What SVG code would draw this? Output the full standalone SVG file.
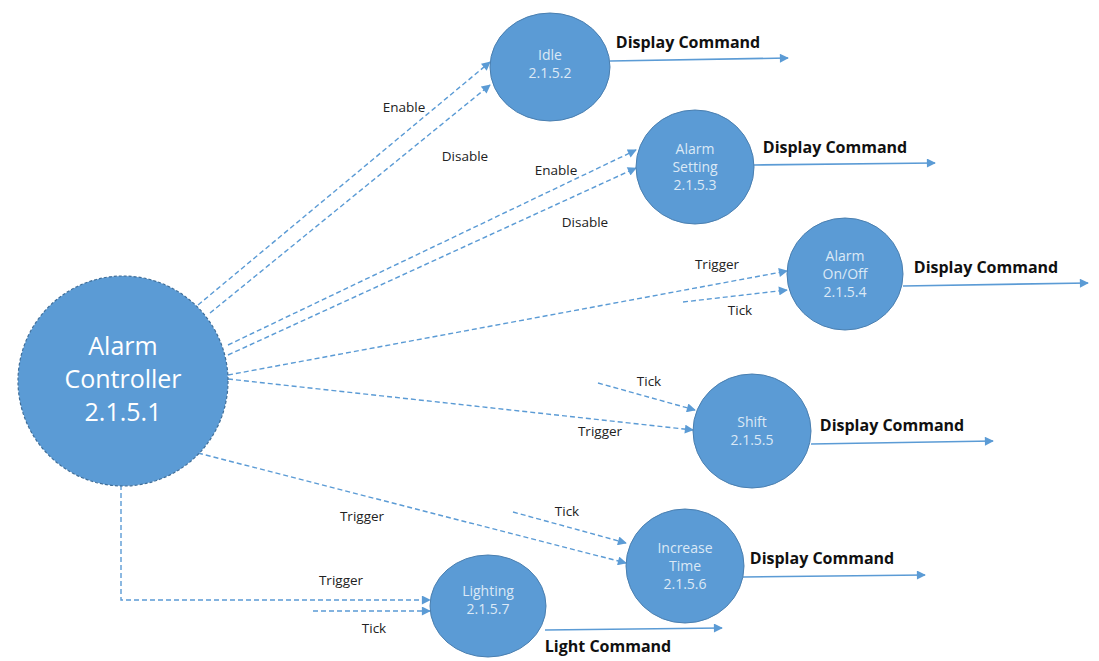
<svg xmlns="http://www.w3.org/2000/svg" width="1099" height="661" viewBox="0 0 1099 661">
<style>
.node{fill:#5B9BD5;stroke:#4A7FB0;stroke-width:1}
.main{fill:#5B9BD5;stroke:#3F6E99;stroke-width:1.2;stroke-dasharray:3 2}
.nt{font-family:"Open Sans","Noto Sans",sans-serif;font-size:14px;fill:#DCE9F6;text-anchor:middle}
.mt{font-family:"Open Sans","Noto Sans",sans-serif;font-size:25px;fill:#FFFFFF;text-anchor:middle}
.lbl{font-family:"Open Sans","Noto Sans",sans-serif;font-size:13.5px;fill:#222;text-anchor:middle}
.out{font-family:"Open Sans","Noto Sans",sans-serif;font-size:16px;font-weight:bold;fill:#111;text-anchor:middle}
.d{fill:none;stroke:#5B9BD5;stroke-width:1.4;stroke-dasharray:5 3}
.s{fill:none;stroke:#5B9BD5;stroke-width:1.6}
</style>
<defs>
<marker id="ah" viewBox="0 0 10 10" refX="9" refY="5" markerWidth="10" markerHeight="9" markerUnits="userSpaceOnUse" orient="auto">
<path d="M0,0 L10,5 L0,10 z" fill="#5B9BD5"/>
</marker>
</defs>
<rect width="1099" height="661" fill="#FFFFFF"/>
<g id="connectors">
<line class="d" x1="198" y1="305" x2="490" y2="62" marker-end="url(#ah)"/>
<line class="d" x1="210" y1="313" x2="490" y2="85" marker-end="url(#ah)"/>
<line class="d" x1="228" y1="345" x2="636" y2="150" marker-end="url(#ah)"/>
<line class="d" x1="228" y1="355" x2="636" y2="168" marker-end="url(#ah)"/>
<line class="d" x1="228" y1="375" x2="787" y2="271" marker-end="url(#ah)"/>
<line class="d" x1="683" y1="302" x2="787" y2="290" marker-end="url(#ah)"/>
<line class="d" x1="598" y1="383" x2="695" y2="410" marker-end="url(#ah)"/>
<line class="d" x1="228" y1="379" x2="693" y2="430" marker-end="url(#ah)"/>
<line class="d" x1="198" y1="453" x2="626" y2="563" marker-end="url(#ah)"/>
<line class="d" x1="513" y1="512" x2="626" y2="543" marker-end="url(#ah)"/>
<polyline class="d" points="121,485 121,600 430,600" marker-end="url(#ah)"/>
<line class="d" x1="313" y1="611" x2="430" y2="611" marker-end="url(#ah)"/>
<line class="s" x1="610" y1="61" x2="788" y2="58" marker-end="url(#ah)"/>
<line class="s" x1="754" y1="165" x2="935" y2="163" marker-end="url(#ah)"/>
<line class="s" x1="903" y1="286" x2="1088" y2="283" marker-end="url(#ah)"/>
<line class="s" x1="811" y1="444" x2="993" y2="441" marker-end="url(#ah)"/>
<line class="s" x1="743" y1="577" x2="925" y2="575" marker-end="url(#ah)"/>
<line class="s" x1="545" y1="630" x2="722" y2="628" marker-end="url(#ah)"/>
<text class="lbl" x="404" y="112">Enable</text>
<text class="lbl" x="465" y="161">Disable</text>
<text class="lbl" x="556" y="175">Enable</text>
<text class="lbl" x="585" y="227">Disable</text>
<text class="lbl" x="717" y="269">Trigger</text>
<text class="lbl" x="740" y="315">Tick</text>
<text class="lbl" x="649" y="386">Tick</text>
<text class="lbl" x="600" y="436">Trigger</text>
<text class="lbl" x="362" y="521">Trigger</text>
<text class="lbl" x="567" y="516">Tick</text>
<text class="lbl" x="341" y="585">Trigger</text>
<text class="lbl" x="374" y="633">Tick</text>
<text class="out" x="688" y="48">Display Command</text>
<text class="out" x="835" y="153">Display Command</text>
<text class="out" x="986" y="273">Display Command</text>
<text class="out" x="892" y="431">Display Command</text>
<text class="out" x="822" y="564">Display Command</text>
<text class="out" x="608" y="652">Light Command</text>
</g>
<g id="alarm-controller">
<circle class="main" cx="123" cy="381" r="105"/>
<text class="mt" x="123" y="355">Alarm</text>
<text class="mt" x="123" y="388">Controller</text>
<text class="mt" x="123" y="421">2.1.5.1</text>
</g>
<g id="idle">
<ellipse class="node" cx="550" cy="67" rx="60" ry="54"/>
<text class="nt" x="550" y="60">Idle</text>
<text class="nt" x="550" y="78">2.1.5.2</text>
</g>
<g id="alarm-setting">
<ellipse class="node" cx="695" cy="167" rx="59" ry="57"/>
<text class="nt" x="695" y="154">Alarm</text>
<text class="nt" x="695" y="172">Setting</text>
<text class="nt" x="695" y="190">2.1.5.3</text>
</g>
<g id="alarm-onoff">
<ellipse class="node" cx="845" cy="274" rx="58" ry="56"/>
<text class="nt" x="845" y="261">Alarm</text>
<text class="nt" x="845" y="279">On/Off</text>
<text class="nt" x="845" y="297">2.1.5.4</text>
</g>
<g id="shift">
<ellipse class="node" cx="752" cy="431" rx="59" ry="57"/>
<text class="nt" x="752" y="427">Shift</text>
<text class="nt" x="752" y="445">2.1.5.5</text>
</g>
<g id="increase-time">
<ellipse class="node" cx="685" cy="566" rx="59" ry="57"/>
<text class="nt" x="685" y="553">Increase</text>
<text class="nt" x="685" y="571">Time</text>
<text class="nt" x="685" y="589">2.1.5.6</text>
</g>
<g id="lighting">
<ellipse class="node" cx="488" cy="606" rx="58" ry="51"/>
<text class="nt" x="488" y="596">Lighting</text>
<text class="nt" x="488" y="614">2.1.5.7</text>
</g>
</svg>
